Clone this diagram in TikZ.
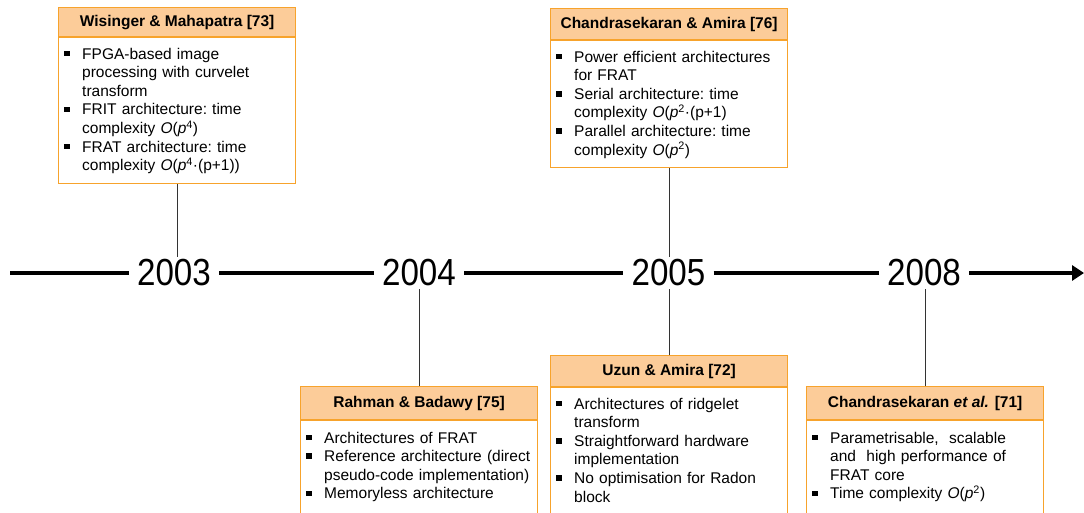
\documentclass[tikz,border=0pt]{standalone}
\usepackage{fontspec}
\usepackage{graphicx}
\setmainfont{Liberation Sans}
\usetikzlibrary{arrows.meta}

\definecolor{boxline}{RGB}{247,163,44}
\definecolor{boxhead}{RGB}{252,204,153}

% bullet item with a small square and hanging indent
\newcommand\bitem[1]{\noindent\hangindent=18pt\hangafter=1%
  \makebox[18pt][l]{\rule[2.8pt]{5.5pt}{5.5pt}}{\let\\\newline#1}\par}
\newcommand\pexp[1]{\textit{p}\textsuperscript{#1}}

\tikzset{
  headbox/.style={draw=boxline, fill=boxhead, line width=1.2pt,
    minimum width=237pt, anchor=north west, inner sep=0pt,
    font=\fontsize{15.5}{18.6}\selectfont\bfseries},
  bodybox/.style={draw=boxline, fill=white, line width=1.2pt,
    minimum width=237pt, anchor=north west, inner sep=0pt},
  notes/.style={anchor=north west, inner xsep=6pt, inner ysep=0pt,
    text width=260pt, font=\fontsize{15.5}{18.6}\selectfont\frenchspacing},
  year/.style={inner xsep=8pt, inner ysep=2.5pt,
    font=\fontsize{37.7}{40}\selectfont},
  link/.style={line width=0.8pt, draw=black!80},
  timeline/.style={line width=4pt, draw=black},
}

\begin{document}
\begin{tikzpicture}[x=1pt, y=-1pt]
\useasboundingbox (0,0) rectangle (1084,512);
\fill[white] (0,0) rectangle (1084,512);
\clip (0,0) rectangle (1084,512);

% years on the time axis
\node[year] (y03) at (174,273) {\scalebox{0.88}[1]{2003}};
\node[year] (y04) at (419,273) {\scalebox{0.88}[1]{2004}};
\node[year] (y05) at (668.5,273) {\scalebox{0.88}[1]{2005}};
\node[year] (y08) at (924,273) {\scalebox{0.88}[1]{2008}};
\coordinate (tstart) at (10,273);
\coordinate (tend) at (1084,273);

\draw[timeline] (tstart) -- (y03.west);
\draw[timeline] (y03.east) -- (y04.west);
\draw[timeline] (y04.east) -- (y05.west);
\draw[timeline] (y05.east) -- (y08.west);
\draw[timeline, -{Triangle[length=12pt,width=15pt]}] (y08.east) -- (tend);

% 2003 (above)
\node[headbox, minimum height=29pt] (h1) at (58,7) {Wisinger \& Mahapatra [73]};
\node[bodybox, minimum height=146pt] (f1) at (h1.south west) {};
\node[notes] (t1) at ([yshift=-10.5pt]f1.north west) {%
  \bitem{FPGA-based image\\processing with curvelet\\transform}%
  \bitem{FRIT architecture: time\\complexity \textit{O}(\pexp{4})}%
  \bitem{FRAT architecture: time\\complexity \textit{O}(\pexp{4}·(p+1))}};
\draw[link] (f1.south) -- (f1.south |- y03.north);

% 2005 (above)
\node[headbox, minimum height=31pt] (h2) at (550,8) {Chandrasekaran \& Amira [76]};
\node[bodybox, minimum height=127pt] (f2) at (h2.south west) {};
\node[notes] (t2) at ([yshift=-10.5pt]f2.north west) {%
  \bitem{Power efficient architectures\\for FRAT}%
  \bitem{Serial architecture: time\\complexity \textit{O}(\pexp{2}·(p+1)}%
  \bitem{Parallel architecture: time\\complexity \textit{O}(\pexp{2})}};
\draw[link] (f2.south) -- (f2.south |- y05.north);

% 2004 (below)
\node[headbox, minimum height=33pt] (h3) at (300,386) {Rahman \& Badawy [75]};
\node[bodybox, minimum height=110pt] (f3) at (h3.south west) {};
\node[notes] (t3) at ([yshift=-11.5pt]f3.north west) {%
  \bitem{Architectures of FRAT}%
  \bitem{Reference architecture (direct\\pseudo-code implementation)}%
  \bitem{Memoryless architecture}};
\draw[link] (h3.north) -- (h3.north |- y04.south);

% 2005 (below)
\node[headbox, minimum height=31pt] (h4) at (550,355) {Uzun \& Amira [72]};
\node[bodybox, minimum height=140pt] (f4) at (h4.south west) {};
\node[notes] (t4) at ([yshift=-10.5pt]f4.north west) {%
  \bitem{Architectures of ridgelet\\transform}%
  \bitem{Straightforward hardware\\implementation}%
  \bitem{No optimisation for Radon\\block}};
\draw[link] (h4.north) -- (h4.north |- y05.south);

% 2008 (below)
\node[headbox, minimum height=33pt] (h5) at (806,386) {Chandrasekaran \textit{et al.} [71]};
\node[bodybox, minimum height=110pt] (f5) at (h5.south west) {};
\node[notes] (t5) at ([yshift=-11.5pt]f5.north west) {%
  \bitem{Parametrisable,\ \ scalable\\and\ \ high performance of\\FRAT core}%
  \bitem{Time complexity \textit{O}(\pexp{2})}};
\draw[link] (h5.north) -- (h5.north |- y08.south);
\end{tikzpicture}
\end{document}
